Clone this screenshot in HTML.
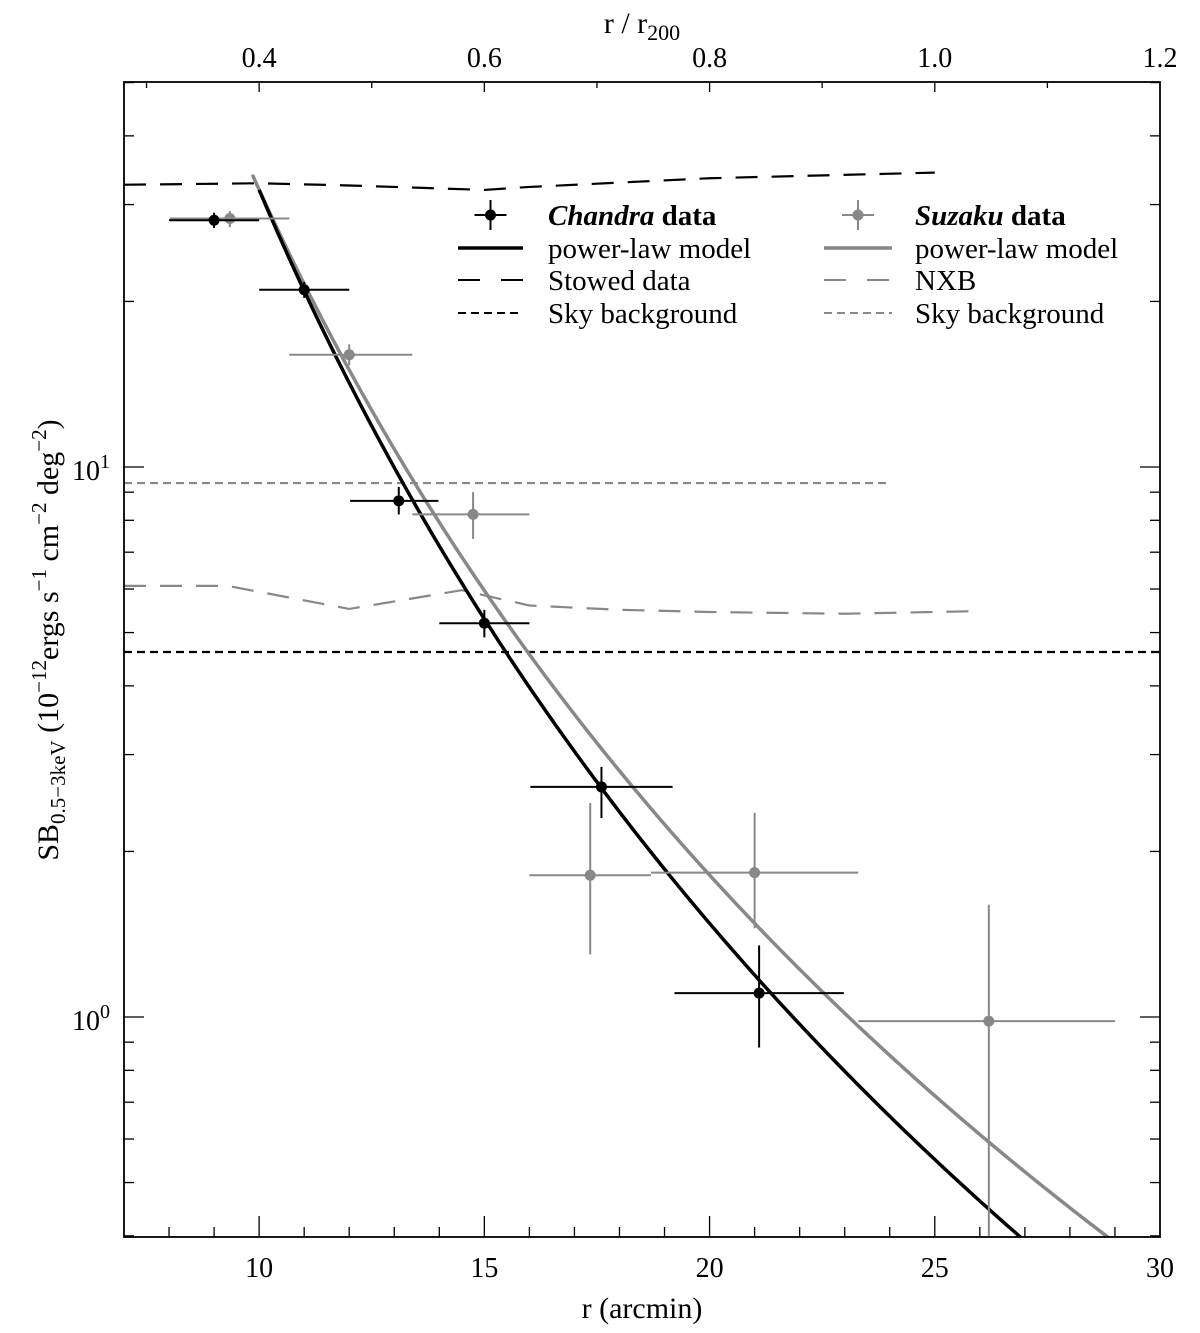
<!DOCTYPE html>
<html><head><meta charset="utf-8">
<style>
html,body{margin:0;padding:0;background:#fff;}
svg{display:block;font-family:"Liberation Serif",serif;}
</style></head>
<body>
<svg id="chart" width="1200" height="1333" xmlns="http://www.w3.org/2000/svg">
<g id="plot"></g>
</svg>
<script>
// ---- data ----
const chandraR = [9, 11, 13.1, 15, 17.6, 21.1];
const chandraSB = [28.1, 21.0, 8.68, 5.2, 2.62, 1.105];
const chandraRlo = [8, 10, 12.02, 14, 16.02, 19.22];
const chandraRhi = [10, 12, 13.98, 16, 19.18, 22.98];
const chandraSBlo = [27.2, 20.3, 8.2, 4.9, 2.3, 0.88];
const chandraSBhi = [29.0, 21.7, 9.2, 5.5, 2.85, 1.35];
const suzakuR = [9.35, 12.0, 14.75, 17.35, 21.0, 26.2];
const suzakuSB = [28.3, 16.0, 8.2, 1.81, 1.83, 0.983];
const suzakuRlo = [8.02, 10.67, 13.4, 16.0, 18.7, 23.3];
const suzakuRhi = [10.67, 13.4, 16.0, 18.7, 23.3, 29.0];
const suzakuSBlo = [27.3, 15.3, 7.4, 1.3, 1.45, 0.4];
const suzakuSBhi = [29.2, 16.7, 9.0, 2.45, 2.35, 1.6];
const stowedR = [7, 10, 12, 15, 16, 20, 25];
const stowedSB = [32.6, 32.8, 32.5, 31.9, 32.3, 33.5, 34.3];
const nxbR = [7, 9.3, 12, 14.5, 16, 18, 20, 23, 26];
const nxbSB = [6.08, 6.08, 5.52, 5.97, 5.6, 5.5, 5.45, 5.41, 5.47];
const skyChandraSB = 4.61;
const skySuzakuSB = 9.35;
const plChandra = {r0: 10, sb0: 31.9, slope: -4.43, rEnd: 27.5};
const plSuzaku = {r0: 9.85, sb0: 34.0, slope: -4.14, rEnd: 29.5};
const xTicks = [10, 15, 20, 25, 30];
const topTicks = [0.4, 0.6, 0.8, 1.0, 1.2];

// ---- axes ----
const L=124,R=1160,T=82,B=1237;
const xMin=7,xMax=30;
const X=r=>L+(r-xMin)/(xMax-xMin)*(R-L);
const Y=v=>467-(Math.log10(v)-1)*550;
const XT=f=>X(f/0.04);
const NS="http://www.w3.org/2000/svg";
const g=document.getElementById('plot');
function el(tag,attrs,parent){const e=document.createElementNS(NS,tag);for(const k in attrs)e.setAttribute(k,attrs[k]);(parent||g).appendChild(e);return e;}

const defs=el('defs',{});
const cp=el('clipPath',{id:'clip'},defs);
el('rect',{x:L,y:T,width:R-L,height:B-T},cp);
const inner=el('g',{'clip-path':'url(#clip)'});

const frame=el('rect',{x:L,y:T,width:R-L,height:B-T,fill:'none',stroke:'#000','stroke-width':1.8});



for(let r=8;r<=29;r++){
  const major=r%5===0, len=major?21:10;
  el('line',{x1:X(r),x2:X(r),y1:B,y2:B-len,stroke:'#000','stroke-width':1.3});
}
xTicks.forEach(r=>{
  const t=el('text',{x:X(r),y:1277,'text-anchor':'middle','font-size':28});
  t.textContent=r;
  
  
});
for(let i=0;i<=9;i++){
  const f=0.3+i*0.1; const x=XT(f); if(x<L+1||x>R-1) continue;
  const major=Math.round(f*10)%2===0;
  el('line',{x1:x,x2:x,y1:T,y2:T+(major?10:6),stroke:'#000','stroke-width':1.3});
}
topTicks.forEach(f=>{
  const t=el('text',{x:XT(f),y:67,'text-anchor':'middle','font-size':28});
  t.textContent=f.toFixed(1);
  
  
});
for(let d=-1;d<=1;d++){
  for(let m=1;m<=9;m++){
    const v=m*Math.pow(10,d); const y=Y(v);
    if(y<T||y>B) continue;
    const len=m===1?20:10;
    el('line',{x1:L,x2:L+len,y1:y,y2:y,stroke:'#000','stroke-width':1.3});
    el('line',{x1:R,x2:R-len,y1:y,y2:y,stroke:'#000','stroke-width':1.3});
  }
}
[[1,'0'],[10,'1']].forEach(([v,e])=>{
  const t=el('text',{x:L-14,y:Y(v)+13,'text-anchor':'end','font-size':28});
  t.innerHTML='10<tspan dy="-12" font-size="20">'+e+'</tspan>';
  
  
});

const xt=el('text',{x:642,y:1318,'text-anchor':'middle','font-size':30});
xt.textContent='r (arcmin)';


const tt=el('text',{x:642,y:33,'text-anchor':'middle','font-size':30});
tt.innerHTML='r / r<tspan dy="7" font-size="22">200</tspan>';


const yt=el('text',{transform:'translate(58,640) rotate(-90)','text-anchor':'middle','font-size':30});
yt.innerHTML='SB<tspan dy="7" font-size="21">0.5−3keV</tspan><tspan dy="-7"> (10</tspan><tspan dy="-12" font-size="21">−12</tspan><tspan dy="12">ergs s</tspan><tspan dy="-12" font-size="21">−1</tspan><tspan dy="12"> cm</tspan><tspan dy="-12" font-size="21">−2</tspan><tspan dy="12"> deg</tspan><tspan dy="-12" font-size="21">−2</tspan><tspan dy="12">)</tspan>';



function poly(rs,vs,stroke,dash,name){
  const p=el('polyline',{points:rs.map((r,i)=>X(r)+','+Y(vs[i])).join(' '),fill:'none',stroke:stroke,'stroke-width':2.2,'stroke-dasharray':dash},inner);
  
  
}
poly(stowedR,stowedSB,'#000','22 14','stowed-data-line');
poly(nxbR,nxbSB,'#888','22 14','nxb-line');
poly([7,30],[skyChandraSB,skyChandraSB],'#000','8 5','chandra-sky-background');
poly([7,24],[skySuzakuSB,skySuzakuSB],'#888','8 5','suzaku-sky-background');

function pl(p,stroke,name){
  const pts=[];
  for(let r=p.r0;r<=p.rEnd;r+=0.1){
    const v=p.sb0*Math.pow(r/p.r0,p.slope);
    pts.push(X(r)+','+Y(v));
  }
  const e=el('polyline',{points:pts.join(' '),fill:'none',stroke:stroke,'stroke-width':3.5},inner);
  
  
}
pl(plSuzaku,'#888','suzaku-power-law');
pl(plChandra,'#000','chandra-power-law');

function pts(rs,vs,rlo,rhi,vlo,vhi,col,name){
  rs.forEach((r,i)=>{
    const grp=el('g',{},inner);
    
    
    el('line',{x1:X(rlo[i]),x2:X(rhi[i]),y1:Y(vs[i]),y2:Y(vs[i]),stroke:col,'stroke-width':2},grp);
    el('line',{x1:X(r),x2:X(r),y1:Y(vlo[i]),y2:Y(vhi[i]),stroke:col,'stroke-width':2},grp);
    el('circle',{cx:X(r),cy:Y(vs[i]),r:5.5,fill:col},grp);
  });
}
pts(suzakuR,suzakuSB,suzakuRlo,suzakuRhi,suzakuSBlo,suzakuSBhi,'#888','suzaku-point');
pts(chandraR,chandraSB,chandraRlo,chandraRhi,chandraSBlo,chandraSBhi,'#000','chandra-point');

const leg=el('g',{});


const rows=[215,248,280,313];
function legEntry(x1,x2,tx,y,col,kind,html,name){
  const e=el('g',{},leg);
  
  
  if(kind==='pt'){
    const cx=(x1+x2)/2;
    el('line',{x1:cx-16,x2:cx+16,y1:y,y2:y,stroke:col,'stroke-width':2},e);
    el('line',{x1:cx,x2:cx,y1:y-15,y2:y+15,stroke:col,'stroke-width':2},e);
    el('circle',{cx:cx,cy:y,r:5.5,fill:col},e);
  } else if(kind==='solid'){
    el('line',{x1:x1,x2:x2,y1:y,y2:y,stroke:col,'stroke-width':3.5},e);
  } else if(kind==='long'){
    el('line',{x1:x1,x2:x2,y1:y,y2:y,stroke:col,'stroke-width':2,'stroke-dasharray':'22 21'},e);
  } else {
    el('line',{x1:x1,x2:x2,y1:y,y2:y,stroke:col,'stroke-width':2,'stroke-dasharray':'8 5'},e);
  }
  const t=el('text',{x:tx,y:y+10,'font-size':29},e);
  t.innerHTML=html;
}
legEntry(458,523,548,rows[0],'#000','pt','<tspan font-style="italic" font-weight="bold">Chandra</tspan><tspan font-weight="bold"> data</tspan>','legend-chandra-data');
legEntry(458,523,548,rows[1],'#000','solid','power-law model','legend-chandra-model');
legEntry(458,523,548,rows[2],'#000','long','Stowed data','legend-stowed');
legEntry(458,523,548,rows[3],'#000','short','Sky background','legend-chandra-sky');
legEntry(824,892,915,rows[0],'#888','pt','<tspan font-style="italic" font-weight="bold">Suzaku</tspan><tspan font-weight="bold"> data</tspan>','legend-suzaku-data');
legEntry(824,892,915,rows[1],'#888','solid','power-law model','legend-suzaku-model');
legEntry(824,892,915,rows[2],'#888','long','NXB','legend-nxb');
legEntry(824,892,915,rows[3],'#888','short','Sky background','legend-suzaku-sky');
</script>
</body></html>
